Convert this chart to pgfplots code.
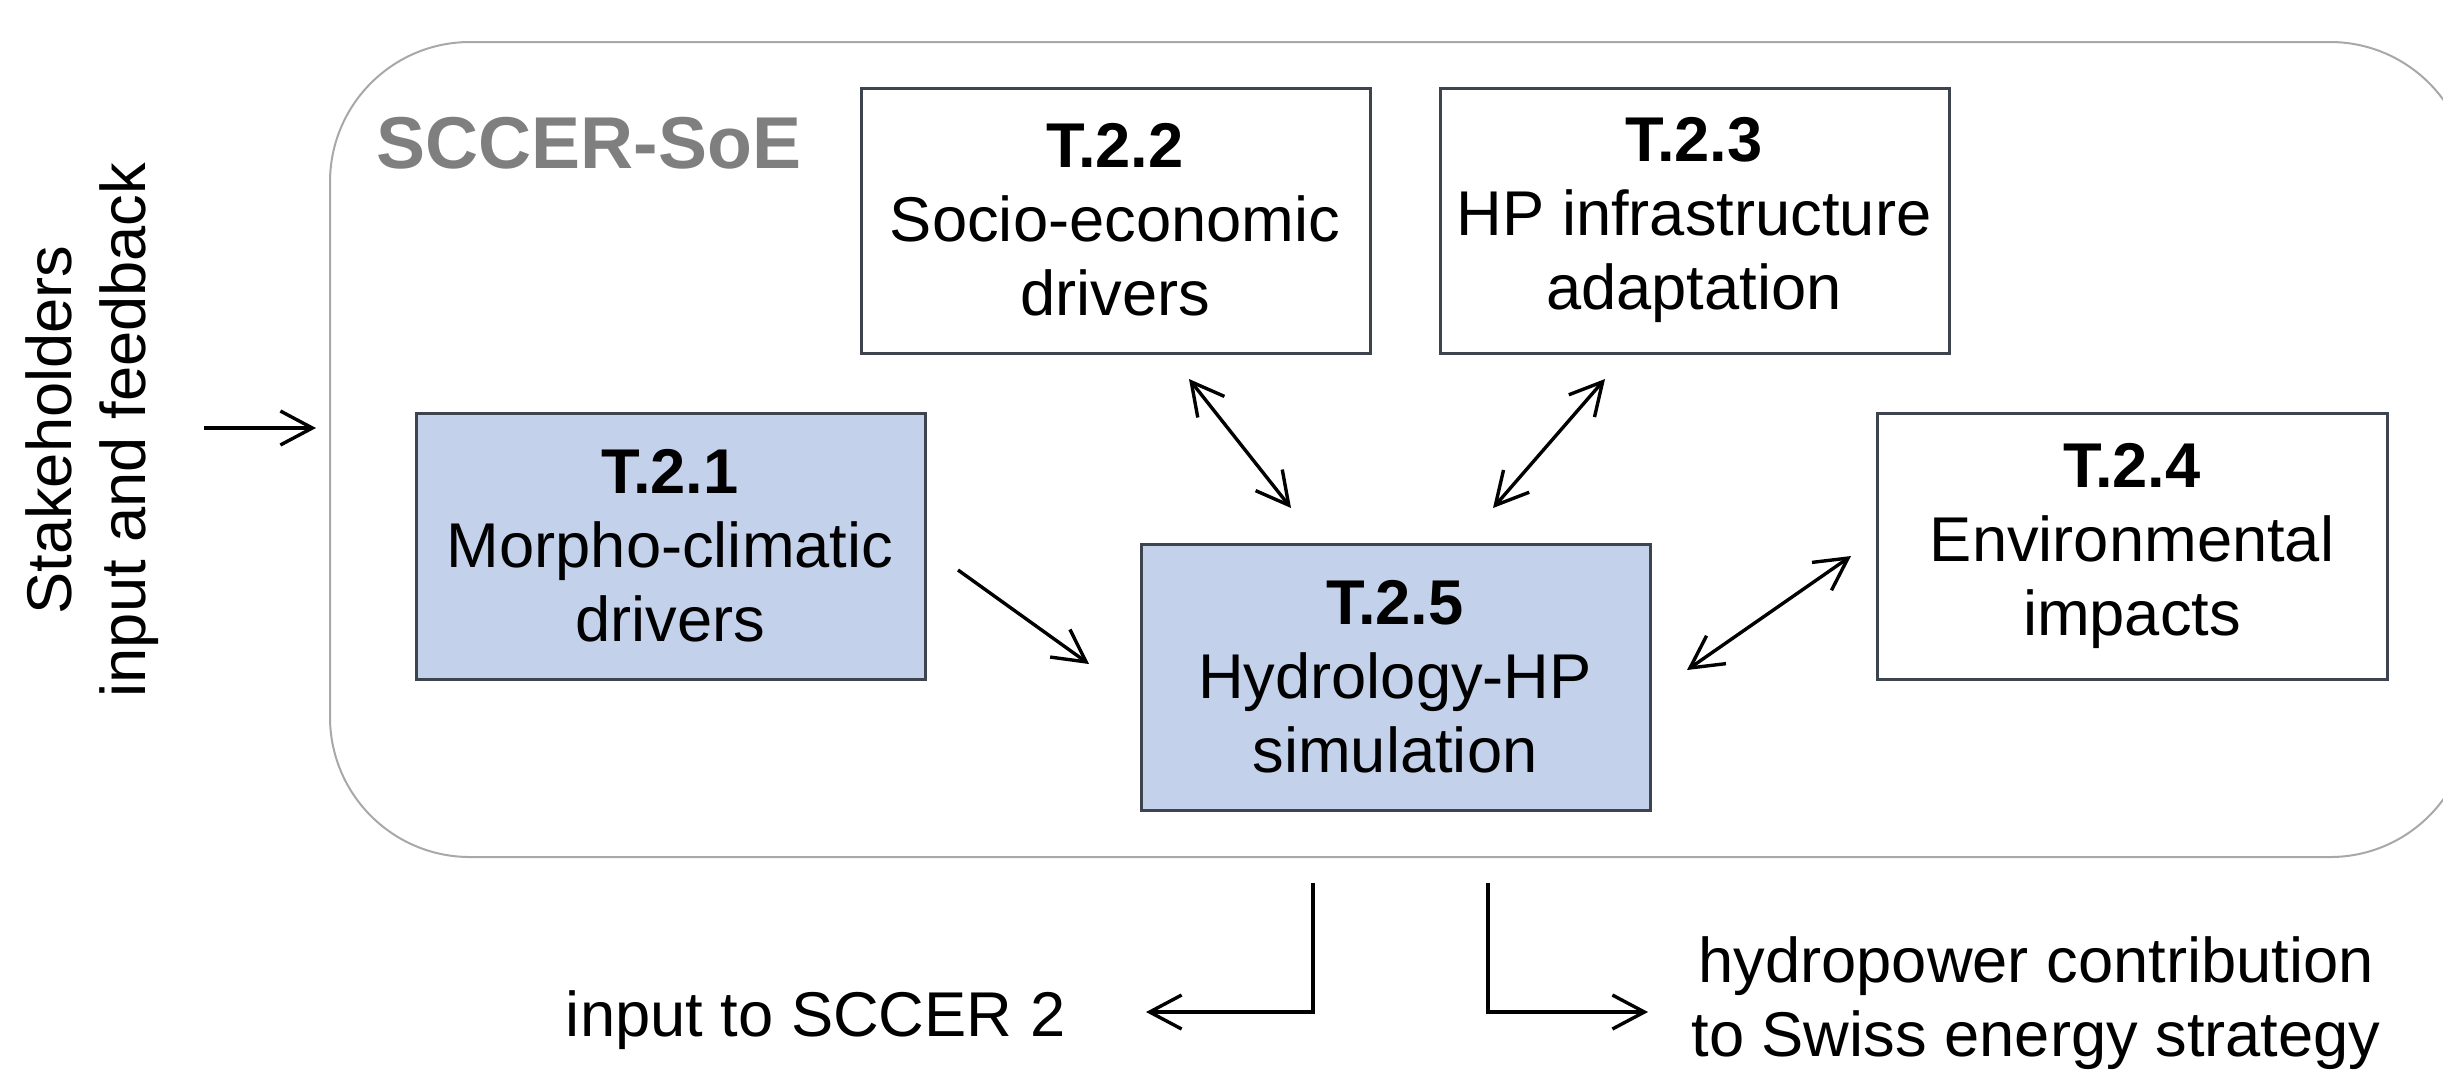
\documentclass[border=0pt]{standalone}
\usepackage{pgfplots}
\pgfplotsset{compat=1.18}
\usepackage{fontspec}
\setmainfont{Liberation Sans}
\usetikzlibrary{arrows.meta}

\definecolor{boxblue}{RGB}{195,209,235}
\definecolor{boxedge}{RGB}{62,68,78}
\definecolor{framegray}{RGB}{168,168,168}
\definecolor{titlegray}{RGB}{127,127,127}

\tikzset{
    lbl/.style={font=\fontsize{18}{21}\selectfont, align=center, inner sep=0pt},
    box/.style={draw=boxedge, line width=0.3mm, line join=miter},
    arr/.style={black, line width=0.34mm, -{Straight Barb[length=3.2mm,width=3.4mm]}},
    darr/.style={black, line width=0.34mm, {Straight Barb[length=3.2mm,width=3.4mm]}-{Straight Barb[length=3.2mm,width=3.4mm]}},
}

\begin{document}
\begin{tikzpicture}
\begin{axis}[
    width=244.3mm, height=107mm, scale only axis,
    xmin=0, xmax=2443, ymin=0, ymax=1070, y dir=reverse,
    hide axis, clip=true, no markers,
]
% page extent
\addplot[draw=none] coordinates {(0,0) (2443,1070)};

% outer rounded frame
\addplot[draw=framegray, line width=0.2mm, rounded corners=14mm]
    coordinates {(330,42) (2470,42) (2470,857) (330,857)} -- cycle;

% task boxes
\addplot[box, fill=white]   coordinates {(861,88) (1370,88) (1370,353) (861,353)} -- cycle;    % T.2.2
\addplot[box, fill=white]   coordinates {(1440,88) (1949,88) (1949,353) (1440,353)} -- cycle;  % T.2.3
\addplot[box, fill=boxblue] coordinates {(416,413) (925,413) (925,679) (416,679)} -- cycle;    % T.2.1
\addplot[box, fill=white]   coordinates {(1877,413) (2387,413) (2387,679) (1877,679)} -- cycle; % T.2.4
\addplot[box, fill=boxblue] coordinates {(1141,544) (1650,544) (1650,810) (1141,810)} -- cycle; % T.2.5

% arrows
\addplot[arr]  coordinates {(204,428) (316,428)};
\addplot[arr]  coordinates {(958,570) (1089,664)};
\addplot[darr] coordinates {(1189,379) (1291,508)};
\addplot[darr] coordinates {(1605,379) (1493,508)};
\addplot[darr] coordinates {(1687,670) (1851,556)};
\addplot[arr]  coordinates {(1313,883) (1313,1012) (1146,1012)};
\addplot[arr]  coordinates {(1488,883) (1488,1012) (1648,1012)};

% texts
\node[anchor=base west, inner sep=0pt, text=titlegray, font=\fontsize{20.9}{24}\selectfont\bfseries]
    at (axis cs:376,168) {SCCER-SoE};
\node[lbl] at (axis cs:1115,220) {\textbf{T.2.2}\\Socio-economic\\drivers};
\node[lbl] at (axis cs:1694,220) {\textbf{T.2.3}\\HP infrastructure\\adaptation};
\node[lbl] at (axis cs:670,546) {\textbf{T.2.1}\\Morpho-climatic\\drivers};
\node[lbl] at (axis cs:2132,546) {\textbf{T.2.4}\\Environmental\\impacts};
\node[lbl] at (axis cs:1395,677) {\textbf{T.2.5}\\Hydrology-HP\\simulation};
\node[lbl, rotate=90] at (axis cs:92,430) {Stakeholders\\input and feedback};
\node[lbl, anchor=east] at (axis cs:1066,1020) {input to SCCER 2};
\node[lbl] at (axis cs:2036,1003) {hydropower contribution\\to Swiss energy strategy};
\end{axis}
\end{tikzpicture}
\end{document}
